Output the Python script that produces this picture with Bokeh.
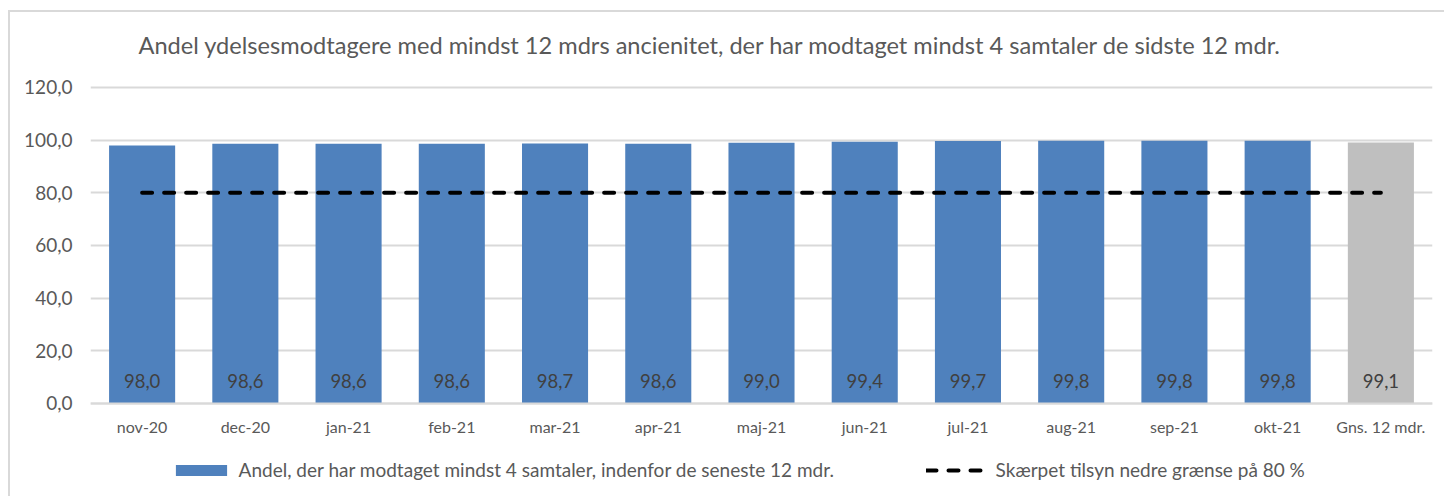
from bokeh.plotting import figure
from bokeh.models import (ColumnDataSource, FactorRange, Range1d, FixedTicker,
                          CustomJSTickFormatter, Legend, LegendItem, Label)
from bokeh.core.properties import value
from bokeh.embed import file_html
from bokeh.resources import INLINE

# ---- data ----
categories = ["nov-20", "dec-20", "jan-21", "feb-21", "mar-21", "apr-21", "maj-21",
              "jun-21", "jul-21", "aug-21", "sep-21", "okt-21", "Gns. 12 mdr."]
shares = [98.0, 98.6, 98.6, 98.6, 98.7, 98.6, 99.0, 99.4, 99.7, 99.8, 99.8, 99.8, 99.1]
threshold = [80, 80, 80, 80, 80, 80, 80, 80, 80, 80, 80, 80, 80]
y_ticks = [0, 20, 40, 60, 80, 100, 120]
title_text = ("Andel ydelsesmodtagere med mindst 12 mdrs ancienitet, der har modtaget "
              "mindst 4 samtaler de sidste 12 mdr.")
bar_label = "Andel, der har modtaget mindst 4 samtaler, indenfor de seneste 12 mdr."
line_label = "Skærpet tilsyn nedre grænse på 80 %"

FONT = "Lato"
BLUE = "#4F81BD"
GREY = "#BFBFBF"
TXT = "#595959"

colors = [BLUE] * (len(categories) - 1) + [GREY]
labels = [f"{v:.1f}".replace(".", ",") for v in shares]

src = ColumnDataSource(dict(cat=categories, val=shares, color=colors,
                            lab=labels, lab_y=[8.4] * len(categories)))
line_src = ColumnDataSource(dict(cat=categories, thr=threshold))

# frame extends above and below the value axis so that title and legend fit inside it
p = figure(x_range=FactorRange(*categories, range_padding=0),
           y_range=Range1d(-30.0, 148.48),
           frame_width=1342, frame_height=470,
           min_border_left=80, min_border_right=12,
           min_border_top=0, min_border_bottom=14,
           output_backend="svg", toolbar_location=None,
           background_fill_color="white", border_fill_color="white")
p.margin = (10, 0, 0, 8)
p.outline_line_color = None
p.styles = {"border-left": "2px solid #d9d9d9", "border-top": "2px solid #d9d9d9"}

bars = p.vbar(x="cat", top="val", width=0.64, source=src,
              fill_color="color", line_color=None)
# legend proxy (blue, zero height so it draws nothing)
bars_proxy = p.vbar(x=[categories[0]], top=[0], width=0.64, fill_color=BLUE,
                    line_color=None)

line = p.line(x="cat", y="thr", source=line_src, line_color="black", line_width=4,
              line_dash="10 12", line_cap="round")

p.text(x="cat", y="lab_y", text="lab", source=src, text_align="center",
       text_baseline="middle", text_font=value(FONT), text_font_size="18.5px",
       text_color="#404040")

# axes
p.yaxis.ticker = FixedTicker(ticks=y_ticks)
p.yaxis.formatter = CustomJSTickFormatter(code="return tick.toFixed(1).replace('.', ',');")
p.yaxis.axis_line_color = None
p.yaxis.major_tick_line_color = None
p.yaxis.minor_tick_line_color = None
p.yaxis.major_label_standoff = 12
p.yaxis.major_label_text_font = FONT
p.yaxis.major_label_text_font_size = "19px"
p.yaxis.major_label_text_color = TXT

p.xaxis.fixed_location = 0
p.xaxis.axis_line_color = "#d9d9d9"
p.xaxis.axis_line_width = 2
p.xaxis.major_tick_line_color = None
p.xaxis.minor_tick_line_color = None
p.xaxis.major_label_standoff = 8
p.xaxis.major_label_text_font = FONT
p.xaxis.major_label_text_font_size = "16px"
p.xaxis.major_label_text_color = TXT

p.xgrid.grid_line_color = None
p.ygrid.grid_line_color = "#d9d9d9"
p.ygrid.grid_line_width = 2

# title
p.add_layout(Label(x=0.465, y=135.95, text=title_text, text_align="left",
                   text_baseline="middle", text_font=FONT, text_font_size="23.6px",
                   text_color=TXT))

# legend
leg = Legend(items=[LegendItem(label=bar_label, renderers=[bars_proxy]),
                    LegendItem(label=line_label, renderers=[line])],
             orientation="horizontal", location=(78.6, 1),
             glyph_width=64, glyph_height=14, label_standoff=6, label_width=650,
             spacing=37, padding=0, margin=0, border_line_color=None,
             background_fill_alpha=0, label_text_font=FONT,
             label_text_font_size="19px", label_text_color=TXT, label_height=22)
p.add_layout(leg, "center")

open("out.html", "w").write(file_html(p, INLINE))
